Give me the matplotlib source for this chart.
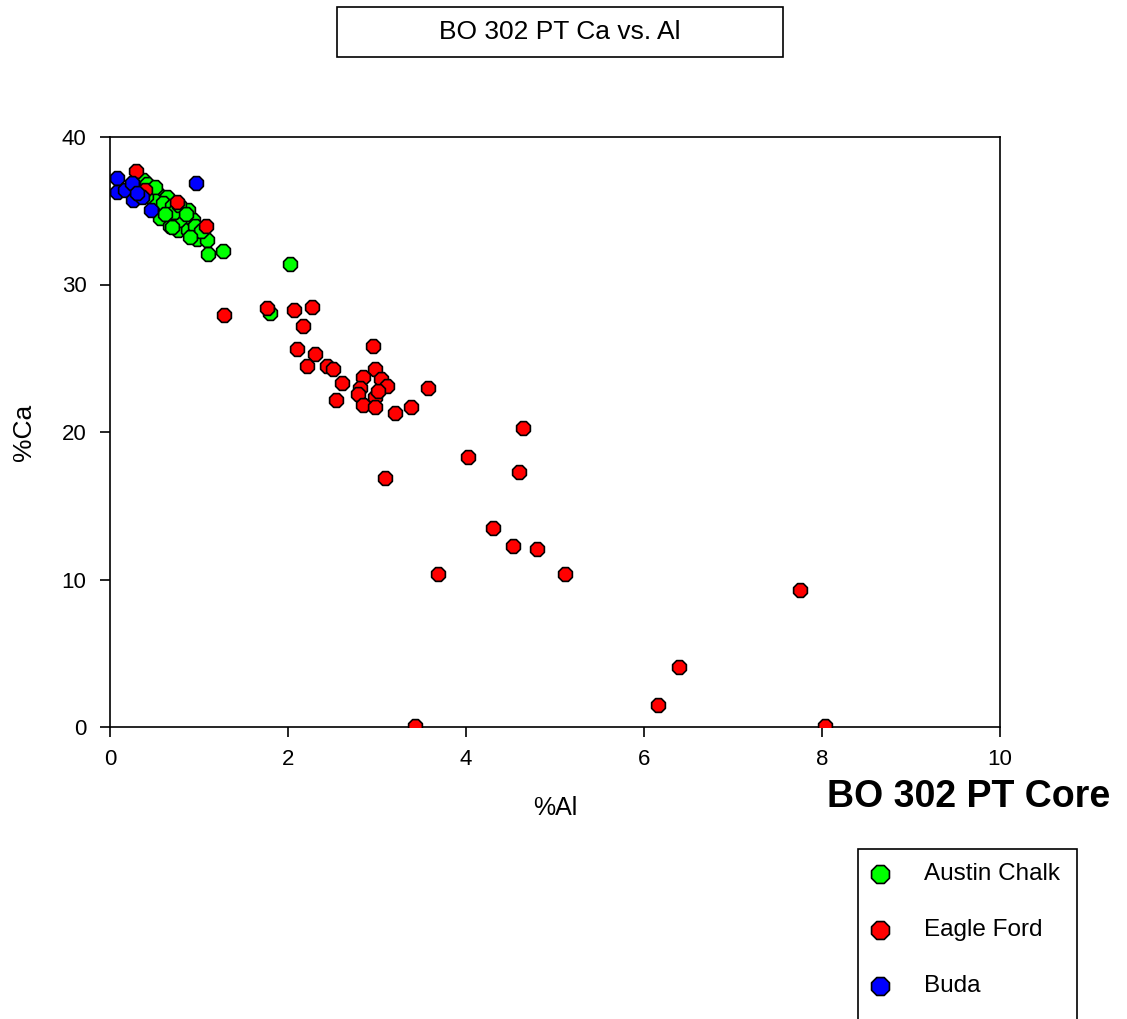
import numpy as np
import matplotlib.pyplot as plt
from matplotlib.patches import Rectangle

plt.rcParams['font.family'] = ['Liberation Sans', 'DejaVu Sans']

# Austin Chalk
chalk_al = [0.37, 0.45, 0.53, 0.64, 0.56, 0.56, 0.67, 0.75, 0.76, 0.81, 0.88, 0.88,
            0.93, 0.98, 1.09, 1.10, 1.27, 2.02, 1.80, 0.42, 0.48, 0.60, 0.70, 0.72,
            0.78, 0.85, 0.95, 1.02, 0.62, 0.70, 0.90, 0.40, 0.50]
chalk_ca = [37.1, 36.3, 36.2, 35.9, 35.2, 34.5, 34.0, 34.7, 33.7, 34.4, 35.05, 33.7,
            34.4, 33.1, 33.0, 32.1, 32.3, 31.4, 28.1, 36.8, 35.8, 35.5, 35.3, 34.9,
            35.4, 34.8, 34.0, 33.6, 34.8, 33.9, 33.2, 36.0, 36.6]

# Eagle Ford
ef_al = [0.29, 0.39, 0.75, 1.08, 1.28, 1.76, 2.07, 2.27, 2.17, 2.10, 2.30, 2.21,
         2.44, 2.51, 2.61, 2.54, 2.96, 2.98, 2.84, 3.04, 3.11, 2.81, 2.79, 2.98,
         3.01, 2.84, 2.98, 3.20, 3.38, 3.57, 3.09, 4.02, 4.64, 4.60, 4.30, 4.53,
         4.80, 3.69, 5.11, 3.43, 7.75, 6.39, 6.16, 8.03]
ef_ca = [37.7, 36.4, 35.6, 34.0, 27.9, 28.4, 28.3, 28.5, 27.2, 25.6, 25.3, 24.5,
         24.5, 24.3, 23.3, 22.2, 25.8, 24.3, 23.7, 23.6, 23.1, 23.0, 22.6, 22.4,
         22.8, 21.8, 21.7, 21.3, 21.7, 23.0, 16.9, 18.3, 20.3, 17.3, 13.5, 12.3,
         12.1, 10.4, 10.4, 0.1, 9.3, 4.1, 1.5, 0.1]

# Buda
buda_al = [0.08, 0.08, 0.17, 0.25, 0.26, 0.36, 0.46, 0.97, 0.30]
buda_ca = [37.2, 36.3, 36.4, 36.9, 35.7, 35.9, 35.05, 36.9, 36.2]

W, H = 1127, 1019
fig = plt.figure(figsize=(W / 100, H / 100), dpi=100)
ax = fig.add_axes([110 / W, 1 - 727 / H, 890 / W, 590 / H])

kw = dict(s=115, marker='8', edgecolors='black', linewidths=1.2, zorder=3)
h1 = ax.scatter(chalk_al, chalk_ca, c='#00ff00', label='Austin Chalk', **kw)
h2 = ax.scatter(ef_al, ef_ca, c='#ff0000', label='Eagle Ford', **kw)
h3 = ax.scatter(buda_al, buda_ca, c='#0000ff', label='Buda', **kw)

ax.set_xlim(0, 10)
ax.set_ylim(0, 40)
ax.set_xticks([0, 2, 4, 6, 8, 10])
ax.set_yticks([0, 10, 20, 30, 40])
ax.tick_params(direction='out', length=7, width=1.2, labelsize=16)
ax.tick_params(axis='y', pad=10)
ax.tick_params(axis='x', pad=9)
for sp in ax.spines.values():
    sp.set_linewidth(1.2)
ax.set_xlabel('%Al', fontsize=18, va='center')
ax.set_ylabel('%Ca', fontsize=19, va='center')
ax.xaxis.set_label_coords(0.5, (727 - 808) / 590)
ax.yaxis.set_label_coords((24 - 110) / 890, 0.5)

# title box
fig.text(560 / W, 1 - 32 / H, 'BO 302 PT Ca vs. Al', fontsize=19, ha='center', va='center')
fig.patches.append(Rectangle((337 / W, 1 - 57 / H), 446 / W, 50 / H, transform=fig.transFigure,
                             fill=False, edgecolor='black', linewidth=1.2))

fig.text(969 / W, 1 - 797 / H, 'BO 302 PT Core', fontsize=27, fontweight='bold',
         ha='center', va='center')

# legend box, runs off the bottom of the figure
fig.patches.append(Rectangle((858 / W, -0.05), 219 / W, 0.05 + (1 - 849 / H),
                             transform=fig.transFigure, fill=False, edgecolor='black',
                             linewidth=1.2, clip_on=False))
fig.legend(handles=[h1, h2, h3], loc='upper left', bbox_to_anchor=(856 / W, 1 - 851 / H),
           frameon=False, fontsize=17.5, labelspacing=1.4, handletextpad=1.3,
           markerscale=1.3, borderpad=0, handlelength=1.0)

fig.savefig('out.png', dpi=100)
